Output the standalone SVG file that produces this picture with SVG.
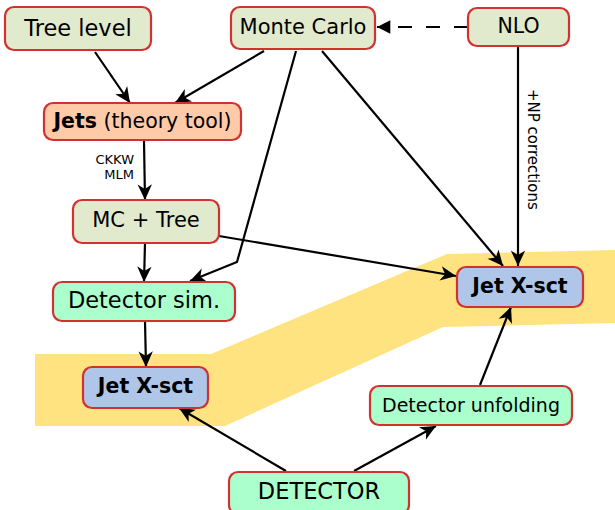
<svg xmlns="http://www.w3.org/2000/svg" width="615" height="510" viewBox="0 0 615 510">
<style>
.box{stroke:#d03232;stroke-width:2.2}
.g{fill:#e1eacd}.p{fill:#ffcaa8}.m{fill:#aaffcc}.b{fill:#afc6e9}
text{font-family:"DejaVu Sans","Liberation Sans",sans-serif;fill:#000}
.c{text-anchor:middle}
.e{fill:none;stroke:#000;stroke-width:2.2}
</style>
<defs>
<marker id="ah" markerUnits="userSpaceOnUse" markerWidth="20" markerHeight="20" viewBox="-16 -8 18 16" refX="0" refY="0" orient="auto">
<path d="M0,0 L-14,-6.5 L-10,0 L-14,6.5 Z" fill="#000"/>
</marker>
<marker id="tri" markerUnits="userSpaceOnUse" markerWidth="20" markerHeight="20" viewBox="-16 -8 18 16" refX="0" refY="0" orient="auto">
<path d="M0,0 L-12,-6 L-12,6 Z" fill="#000"/>
</marker>
</defs>
<polygon points="35,354 211,354 447,254 615,250 615,323 443,327 225,426 35,426" fill="#ffe380"/>
<g id="connectors">
<path class="e" d="M95,52 L130,103" marker-end="url(#ah)"/>
<path class="e" d="M264,51 L175,103" marker-end="url(#ah)"/>
<path class="e" d="M296,51 L237,262 L190,281" marker-end="url(#ah)"/>
<path class="e" d="M322,51 L503,266" marker-end="url(#ah)"/>
<path class="e" d="M468,27 L377,27" stroke-width="3" stroke-dasharray="14,14" marker-end="url(#tri)"/>
<path class="e" d="M518,46 L518,266" marker-end="url(#ah)"/>
<path class="e" d="M144,141 L145,200" marker-end="url(#ah)"/>
<path class="e" d="M219,236 L456,276" marker-end="url(#ah)"/>
<path class="e" d="M145,243 L144,282" marker-end="url(#ah)"/>
<path class="e" d="M145,321 L146,367" marker-end="url(#ah)"/>
<path class="e" d="M480,385 L511,307" marker-end="url(#ah)"/>
<path class="e" d="M286,471 L179,408" marker-end="url(#ah)"/>
<path class="e" d="M354,471 L436,426" marker-end="url(#ah)"/>
<text x="134" y="164" font-size="13" text-anchor="end">CKKW</text>
<text x="134" y="179" font-size="13" text-anchor="end">MLM</text>
<text transform="translate(528,89) rotate(90)" font-size="15">+NP corrections</text>
</g>
<g id="tree-level"><rect class="box g" x="5" y="7" width="146" height="43" rx="9"/><text class="c" x="78" y="36" font-size="22.5">Tree level</text></g>
<g id="monte-carlo"><rect class="box g" x="231" y="7" width="144" height="42" rx="9"/><text class="c" x="303" y="34" font-size="21">Monte Carlo</text></g>
<g id="nlo"><rect class="box g" x="468" y="8" width="101" height="38" rx="9"/><text class="c" x="518.5" y="33" font-size="20.5">NLO</text></g>
<g id="jets"><rect class="box p" x="44" y="103" width="197" height="37" rx="9"/><text class="c" x="142.5" y="128" font-size="20.5"><tspan font-weight="bold">Jets</tspan> (theory tool)</text></g>
<g id="mc-tree"><rect class="box g" x="73" y="200" width="146" height="43" rx="9"/><text class="c" x="146" y="227" font-size="21">MC + Tree</text></g>
<g id="detector-sim"><rect class="box m" x="53" y="282" width="182" height="39" rx="9"/><text class="c" x="144" y="308" font-size="22.5">Detector sim.</text></g>
<g id="jet-xsct-right"><rect class="box b" x="457" y="267" width="126" height="40" rx="9"/><text class="c" x="520" y="293" font-size="20.5" font-weight="bold">Jet X-sct</text></g>
<g id="jet-xsct-left"><rect class="box b" x="83" y="367" width="125" height="41" rx="9"/><text class="c" x="145.5" y="393" font-size="20.5" font-weight="bold">Jet X-sct</text></g>
<g id="detector-unfolding"><rect class="box m" x="370" y="386" width="202" height="39" rx="9"/><text class="c" x="471" y="412" font-size="19">Detector unfolding</text></g>
<g id="detector"><rect class="box m" x="229" y="472" width="180" height="42" rx="9"/><text class="c" x="319" y="499" font-size="22.5">DETECTOR</text></g>
</svg>
